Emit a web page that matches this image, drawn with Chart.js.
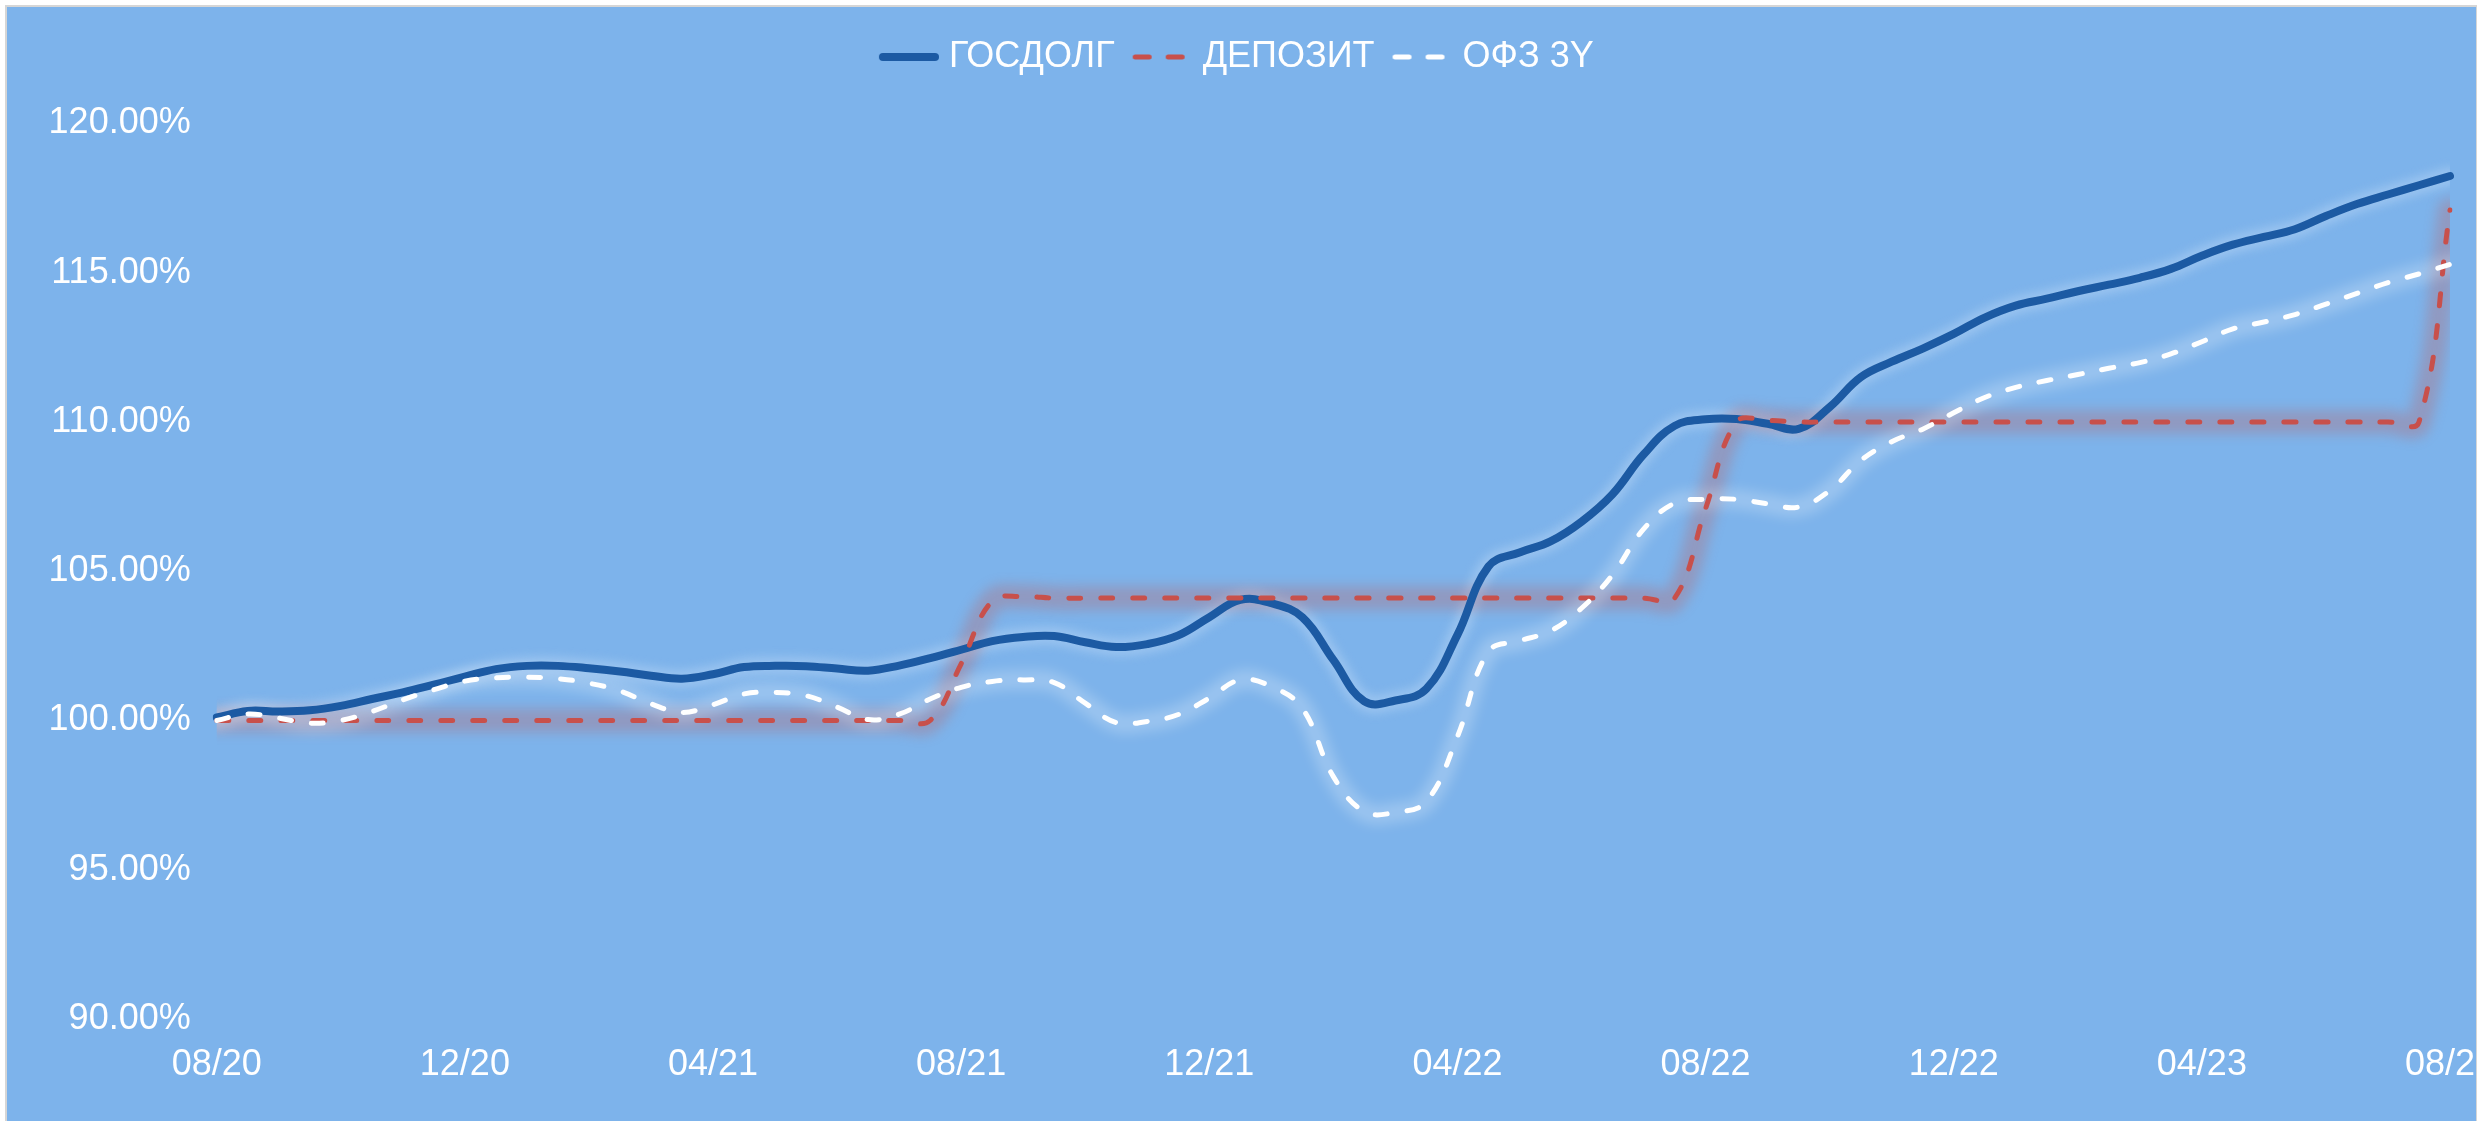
<!DOCTYPE html>
<html>
<head>
<meta charset="utf-8">
<script src="https://cdn.jsdelivr.net/npm/chart.js"></script>
<style>
  html, body { margin: 0; padding: 0; background: #ffffff; }
  #wrap { width: 2478px; height: 1121px; }
  canvas { display: block; }
</style>
</head>
<body>
<div id="wrap"><canvas id="c" width="2478" height="1121"></canvas></div>
<script>
// ---- data (semi-monthly observations, Aug 2020 – Aug 2023) ----
const categories = [
  '01.08.20','16.08.20','01.09.20','16.09.20','01.10.20','16.10.20','01.11.20','16.11.20',
  '01.12.20','16.12.20','01.01.21','16.01.21','01.02.21','16.02.21','01.03.21','16.03.21',
  '01.04.21','16.04.21','01.05.21','16.05.21','01.06.21','16.06.21','01.07.21','16.07.21',
  '01.08.21','16.08.21','01.09.21','16.09.21','01.10.21','16.10.21','01.11.21','16.11.21',
  '01.12.21','16.12.21','01.01.22','16.01.22','01.02.22','16.02.22','01.03.22','16.03.22',
  '01.04.22','16.04.22','01.05.22','16.05.22','01.06.22','16.06.22','01.07.22','16.07.22',
  '01.08.22','16.08.22','01.09.22','16.09.22','01.10.22','16.10.22','01.11.22','16.11.22',
  '01.12.22','16.12.22','01.01.23','16.01.23','01.02.23','16.02.23','01.03.23','16.03.23',
  '01.04.23','16.04.23','01.05.23','16.05.23','01.06.23','16.06.23','01.07.23','16.07.23',
  '01.08.23'
];
const tickLabels = ['08/20','12/20','04/21','08/21','12/21','04/22','08/22','12/22','04/23','08/23'];

const gosdolg = [
  100.10,100.32,100.30,100.34,100.49,100.72,100.94,101.20,
  101.47,101.72,101.83,101.83,101.75,101.64,101.50,101.40,
  101.55,101.79,101.83,101.82,101.74,101.67,101.84,102.09,
  102.37,102.66,102.80,102.83,102.62,102.46,102.56,102.85,
  103.46,104.04,103.93,103.46,102.03,100.64,100.67,101.06,
  102.87,105.16,105.63,106.00,106.66,107.58,108.91,109.87,
  110.09,110.10,109.94,109.77,110.50,111.50,112.02,112.46,
  112.95,113.50,113.90,114.13,114.38,114.60,114.83,115.13,
  115.57,115.94,116.20,116.46,116.90,117.30,117.62,117.93,
  118.24
];
const deposit = [
  100.00,100.00,100.00,100.00,100.00,100.00,100.00,100.00,
  100.00,100.00,100.00,100.00,100.00,100.00,100.00,100.00,
  100.00,100.00,100.00,100.00,100.00,100.00,100.00,100.00,
  101.90,104.00,104.15,104.10,104.10,104.10,104.10,104.10,
  104.10,104.10,104.10,104.10,104.10,104.10,104.10,104.10,
  104.10,104.10,104.10,104.10,104.10,104.10,104.10,104.10,
  107.10,110.00,110.05,110.00,110.00,110.00,110.00,110.00,
  110.00,110.00,110.00,110.00,110.00,110.00,110.00,110.00,
  110.00,110.00,110.00,110.00,110.00,110.00,110.00,110.00,
  117.10
];
const ofz3y = [
  100.00,100.22,100.08, 99.91,100.00,100.30,100.69,101.03,
  101.32,101.43,101.45,101.40,101.25,100.99,100.56,100.27,
  100.53,100.89,100.94,100.83,100.45,100.03,100.21,100.72,
  101.11,101.31,101.36,101.27,100.58, 99.93, 99.97,100.20,
  100.75,101.36,101.14,100.41, 98.12, 96.95, 96.92, 97.29,
   99.46,102.31,102.67,103.00,103.76,104.88,106.41,107.28,
  107.41,107.41,107.26,107.15,107.70,108.71,109.34,109.76,
  110.31,110.82,111.16,111.39,111.59,111.80,111.99,112.28,
  112.69,113.12,113.35,113.60,113.95,114.31,114.67,114.96,
  115.28
];
const seriesNames = ['ГОСДОЛГ', 'ДЕПОЗИТ', 'ОФЗ 3Y'];

// ---- styling ----
const BG = '#7DB3EB';
Chart.defaults.font.family = "'Liberation Sans', Arial, sans-serif";
Chart.defaults.color = '#ffffff';

// legend sample images (line sample sits flush against its label)
function legendSample(color, width, dash) {
  const c = document.createElement('canvas');
  c.width = 68; c.height = 12;
  const g = c.getContext('2d');
  g.strokeStyle = color;
  g.lineWidth = width;
  g.lineCap = 'round';
  g.beginPath();
  if (dash) {
    g.setLineDash([14, 19]);
    g.moveTo(10.5, 6); g.lineTo(68, 6);
  } else {
    g.moveTo(12, 6); g.lineTo(64, 6);
  }
  g.stroke();
  return c;
}

const frame = {
  id: 'frame',
  beforeDraw(chart) {
    const ctx = chart.ctx, W = chart.width, H = chart.height;
    ctx.save();
    ctx.fillStyle = '#ffffff';
    ctx.fillRect(0, 0, W, H);
    ctx.fillStyle = BG;
    ctx.fillRect(7, 7, 2469, H - 7);
    ctx.strokeStyle = '#d6d6d6';
    ctx.lineWidth = 2;
    ctx.beginPath();
    ctx.moveTo(6, H); ctx.lineTo(6, 6); ctx.lineTo(2477, 6); ctx.lineTo(2477, H);
    ctx.stroke();
    ctx.restore();
  },
  afterDraw(chart) {
    const ctx = chart.ctx, H = chart.height;
    ctx.save();
    ctx.fillStyle = '#ffffff';
    ctx.fillRect(2477, 0, 10, H);
    ctx.strokeStyle = '#d6d6d6';
    ctx.lineWidth = 1;
    ctx.beginPath();
    ctx.moveTo(2476.5, 6); ctx.lineTo(2476.5, H);
    ctx.stroke();
    ctx.restore();
  }
};

const legendSpace = {
  id: 'legendSpace',
  beforeLayout(chart) {
    const lg = chart.legend;
    if (lg && !lg._patched) {
      const orig = lg.fit;
      lg.fit = function () { orig.call(this); this.height += 38.5; };
      lg._patched = true;
    }
  }
};

const glow = {
  id: 'glow',
  beforeDatasetsDraw(chart) {
    const ctx = chart.ctx, a = chart.chartArea;
    ctx.save();
    ctx.beginPath();
    ctx.rect(a.left, a.top, a.right - a.left, a.bottom - a.top);
    ctx.clip();
    chart.data.datasets.forEach((ds, i) => {
      const meta = chart.getDatasetMeta(i);
      const line = meta.dataset;
      if (!line || !ds.glowColor) return;
      try { line.updateControlPoints(a, 'x'); } catch (e) {}
      ctx.save();
      ctx.beginPath();
      line.path(ctx);
      ctx.lineWidth = ds.glowWidth;
      ctx.strokeStyle = ds.glowColor;
      ctx.lineJoin = 'round';
      ctx.lineCap = 'round';
      ctx.setLineDash([]);
      ctx.filter = 'blur(' + ds.glowBlur + 'px)';
      ctx.stroke();
      ctx.restore();
    });
    ctx.restore();
  }
};

const datasetsCfg = [
  {
    label: seriesNames[0], data: gosdolg,
    borderColor: '#1C5AA3', backgroundColor: '#1C5AA3',
    borderWidth: 8, borderCapStyle: 'round', borderJoinStyle: 'round',
    pointRadius: 0, tension: 0.4, order: 3,
    glowColor: 'rgba(205,225,248,0.35)', glowWidth: 18, glowBlur: 5
  },
  {
    label: seriesNames[1], data: deposit,
    borderColor: '#C8504B', backgroundColor: '#C8504B',
    borderWidth: 5, borderDash: [12, 20], borderCapStyle: 'round', borderJoinStyle: 'round',
    pointRadius: 0, tension: 0.4, order: 2,
    glowColor: 'rgba(200,80,75,0.26)', glowWidth: 24, glowBlur: 6
  },
  {
    label: seriesNames[2], data: ofz3y,
    borderColor: '#FFFFFF', backgroundColor: '#FFFFFF',
    borderWidth: 5, borderDash: [12, 20], borderCapStyle: 'round', borderJoinStyle: 'round',
    pointRadius: 0, tension: 0.4, order: 1,
    glowColor: 'rgba(255,255,255,0.22)', glowWidth: 20, glowBlur: 6
  }
];
const samples = datasetsCfg.map((d) => legendSample(d.borderColor, d.borderWidth, !!d.borderDash));

new Chart(document.getElementById('c'), {
  type: 'line',
  data: { labels: categories, datasets: datasetsCfg },
  options: {
    responsive: false,
    animation: false,
    devicePixelRatio: 1,
    layout: { padding: { top: 21, left: 22.6, right: 28, bottom: 10.8 } },
    plugins: {
      tooltip: { enabled: false },
      legend: {
        position: 'top',
        align: 'center',
        labels: {
          color: '#ffffff',
          font: { size: 36 },
          usePointStyle: true,
          pointStyleWidth: 52,
          padding: 18,
          sort: (a, b) => a.datasetIndex - b.datasetIndex,
          generateLabels(chart) {
            const items = Chart.defaults.plugins.legend.labels.generateLabels(chart);
            items.forEach((it) => {
              it.pointStyle = samples[it.datasetIndex];
              it.lineWidth = 1;
              it.lineDash = [];
              it.fontColor = '#ffffff';
            });
            return items;
          }
        }
      }
    },
    scales: {
      x: {
        type: 'category',
        offset: false,
        grid: { display: false, drawTicks: false },
        border: { display: false },
        ticks: {
          autoSkip: false, maxRotation: 0, minRotation: 0,
          padding: 24, color: '#ffffff', font: { size: 36 },
          callback: (v, i) => (i % 8 === 0 ? tickLabels[i / 8] : null)
        },
        afterFit: (s) => { s.paddingLeft = 0; s.paddingRight = 0; }
      },
      y: {
        min: 90, max: 120,
        grid: { display: false, drawTicks: false },
        border: { display: false },
        ticks: {
          stepSize: 5, padding: 26, color: '#ffffff', font: { size: 36 },
          callback: (v) => v.toFixed(2) + '%'
        }
      }
    }
  },
  plugins: [frame, legendSpace, glow]
});
</script>
</body>
</html>
